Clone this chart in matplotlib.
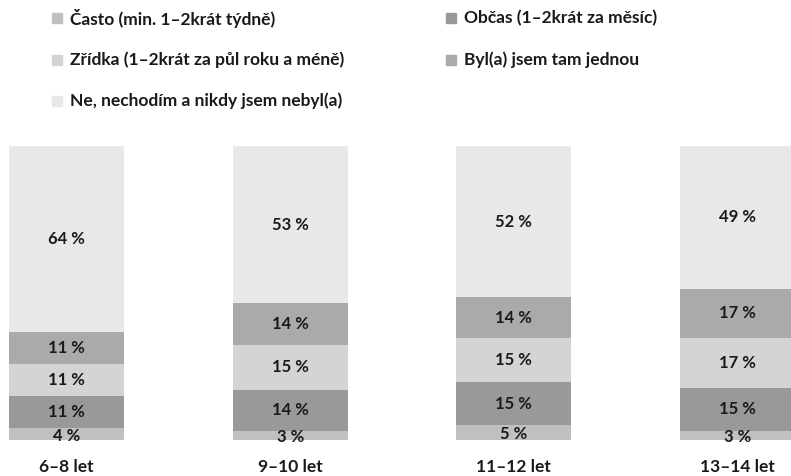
import matplotlib
matplotlib.use("Agg")
import matplotlib.pyplot as plt
from matplotlib.patches import Rectangle
import numpy as np

plt.rcParams['font.family'] = ['Lato', 'DejaVu Sans']

categories = ["6–8 let", "9–10 let", "11–12 let", "13–14 let"]
series_names = ["Často (min. 1–2krát týdně)", "Občas (1–2krát za měsíc)",
                "Zřídka (1–2krát za půl roku a méně)", "Byl(a) jsem tam jednou",
                "Ne, nechodím a nikdy jsem nebyl(a)"]
casto = [4, 3, 5, 3]
obcas = [11, 14, 15, 15]
zridka = [11, 15, 15, 17]
jednou = [11, 14, 14, 17]
ne = [64, 53, 52, 49]
colors = ["#c0c0c0", "#999999", "#d4d4d4", "#aaaaaa", "#e8e8e8"]

W, H = 791, 476
fig = plt.figure(figsize=(W / 100, H / 100), dpi=100)
ax = fig.add_axes([0, (H - 440) / H, 1, (440 - 146) / H])

series = [casto, obcas, zridka, jednou, ne]
data = np.array(series, dtype=float)
totals = data.sum(axis=0)
norm = data / totals * 100

x = np.arange(len(categories))
unit = (737.5 - 66.5) / 3
ax.set_xlim(-66.5 / unit, 3 + (W - 737.5) / unit)
ax.set_ylim(0, 100)
width = 115 / unit

bottom = np.zeros(len(categories))
for vals, raw, col in zip(norm, series, colors):
    ax.bar(x, vals, width, bottom=bottom, color=col, edgecolor='none')
    for xi, b, v, r in zip(x, bottom, vals, raw):
        yc = b + v / 2
        if v < 6:
            yc = b + v / 2 - 0.6
        ax.text(xi, yc, f"{r} %", ha='center', va='center', fontsize=12,
                fontweight='bold', color='#1a1a1a')
    bottom += vals

ax.axis('off')

for xi, c in zip(x, categories):
    ax.text(xi, -9.2, c, ha='center', va='center', fontsize=12.5,
            fontweight='bold', color='#1a1a1a', clip_on=False)

# legend
leg_pos = [(52, 18), (446, 18), (52, 60), (446, 60), (52, 101)]
for (lx, ly), name, col in zip(leg_pos, series_names, colors):
    fig.patches.append(Rectangle((lx / W, (H - ly - 5) / H), 10 / W, 10 / H,
                                 transform=fig.transFigure, color=col, figure=fig))
    fig.text((lx + 18) / W, (H - ly) / H, name, ha='left', va='center',
             fontsize=12.5, fontweight='bold', color='#1a1a1a')

fig.savefig("out.png", dpi=100)
